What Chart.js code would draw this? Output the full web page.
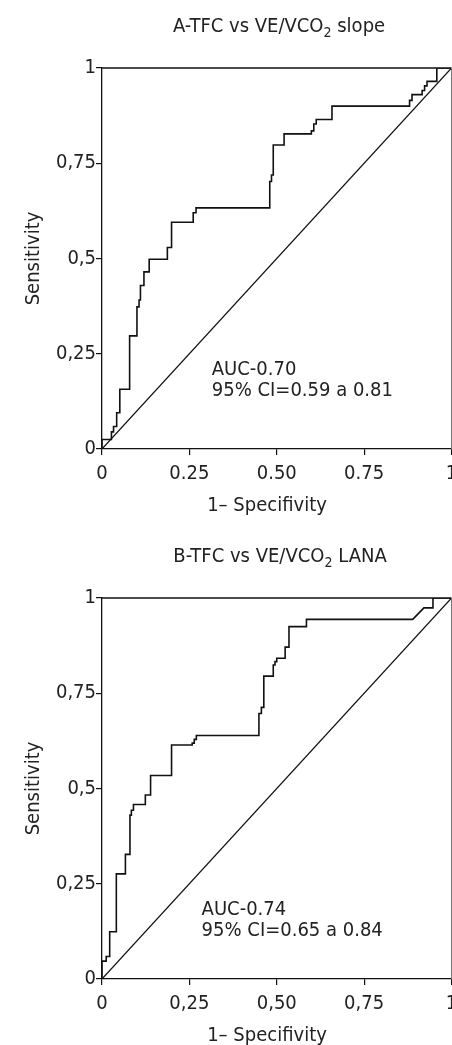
<!DOCTYPE html>
<html><head><meta charset="utf-8">
<script src="https://cdn.jsdelivr.net/npm/chart.js@4.4.1/dist/chart.umd.min.js"></script>
<style>
html,body{margin:0;padding:0;background:#fff;overflow:hidden;}
.box{position:relative;width:452px;}
#wa{height:530px;} #wb{height:515px;}
</style></head><body>
<div class="box" id="wa"><canvas id="ca"></canvas></div>
<div class="box" id="wb"><canvas id="cb"></canvas></div>
<script>
// ---- data ----
const titleA = ['A-TFC vs VE/VCO', '2', ' slope'];
const titleB = ['B-TFC vs VE/VCO', '2', ' LANA'];
const aucA = ['AUC-0.70', '95% CI=0.59 a 0.81'];
const aucB = ['AUC-0.74', '95% CI=0.65 a 0.84'];
const xTitle = '1\u2013 Specifivity';
const yTitle = 'Sensitivity';
const tickValues = [0, 0.25, 0.5, 0.75, 1];
const xTicksA = ['0', '0.25', '0.50', '0.75', '1'];
const xTicksB = ['0', '0,25', '0,50', '0,75', '1'];
const yTicks = ['0', '0,25', '0,5', '0,75', '1'];
const refX = [0, 1];
const refY = [0, 1];

const rocA_fpr = [0,0,0.027,0.027,0.033,0.033,0.042,0.042,0.051,0.051,0.079,0.079,0.1,0.1,0.106,0.106,0.11,0.11,0.12,0.12,0.135,0.135,0.187,0.187,0.199,0.199,0.261,0.261,0.269,0.269,0.48,0.48,0.485,0.485,0.49,0.49,0.521,0.521,0.599,0.599,0.606,0.606,0.613,0.613,0.658,0.658,0.88,0.88,0.887,0.887,0.916,0.916,0.923,0.923,0.93,0.93,0.958,0.958,1];
const rocA_tpr = [0,0.025,0.025,0.045,0.045,0.059,0.059,0.095,0.095,0.157,0.157,0.297,0.297,0.373,0.373,0.391,0.391,0.429,0.429,0.465,0.465,0.498,0.498,0.529,0.529,0.595,0.595,0.62,0.62,0.633,0.633,0.702,0.702,0.719,0.719,0.798,0.798,0.827,0.827,0.835,0.835,0.853,0.853,0.865,0.865,0.9,0.9,0.915,0.915,0.93,0.93,0.941,0.941,0.953,0.953,0.965,0.965,1,1];

const rocB_fpr = [0,0,0.012,0.012,0.022,0.022,0.041,0.041,0.067,0.067,0.08,0.08,0.084,0.084,0.09,0.09,0.124,0.124,0.139,0.139,0.199,0.199,0.258,0.258,0.264,0.264,0.27,0.27,0.449,0.449,0.456,0.456,0.463,0.463,0.49,0.49,0.495,0.495,0.5,0.5,0.524,0.524,0.535,0.535,0.585,0.585,0.889,0.921,0.947,0.947,1];
const rocB_tpr = [0,0.047,0.047,0.059,0.059,0.124,0.124,0.276,0.276,0.327,0.327,0.43,0.43,0.443,0.443,0.458,0.458,0.483,0.483,0.534,0.534,0.614,0.614,0.619,0.619,0.629,0.629,0.639,0.639,0.697,0.697,0.713,0.713,0.795,0.795,0.824,0.824,0.833,0.833,0.842,0.842,0.871,0.871,0.925,0.925,0.944,0.944,0.974,0.974,1,1];

// ---- styling ----
const FONT = '"Liberation Sans Narrow", "Arial Narrow", "DejaVu Sans Condensed", sans-serif';
const FS = 20;
const TEXT = '#222';
const LINE = '#111';

const pts = (xs, ys) => xs.map((v, i) => ({x: v, y: ys[i]}));

const rocText = {
  id: 'rocText',
  afterDraw(chart, args, o) {
    const {ctx, chartArea: a, scales: {x, y}} = chart;
    ctx.save();
    ctx.strokeStyle = LINE; ctx.lineWidth = 1.3;
    ctx.beginPath(); ctx.moveTo(a.left, a.top); ctx.lineTo(a.right, a.top); ctx.stroke();
    ctx.strokeStyle = '#777'; ctx.lineWidth = 1;
    ctx.beginPath(); ctx.moveTo(a.right, a.top); ctx.lineTo(a.right, a.bottom); ctx.stroke();

    ctx.fillStyle = TEXT;
    ctx.textBaseline = 'alphabetic';
    // title with subscript
    const big = FS + 'px ' + FONT, small = (FS * 0.7) + 'px ' + FONT;
    const parts = o.title;
    const fonts = [big, small, big];
    let w = 0; const ws = [];
    parts.forEach((p, i) => { ctx.font = fonts[i]; const m = ctx.measureText(p).width; ws.push(m); w += m; });
    let cx = o.titleCx - w / 2;
    const by = a.top - o.titleGap;
    parts.forEach((p, i) => { ctx.font = fonts[i]; ctx.textAlign = 'left'; ctx.fillText(p, cx, by + (i === 1 ? 5 : 0)); cx += ws[i]; });

    // AUC text
    ctx.font = big; ctx.textAlign = 'left';
    o.auc.forEach((t, i) => {
      ctx.fillText(t, x.getPixelForValue(o.aucPos[0]), y.getPixelForValue(o.aucPos[1]) + i * o.aucLine);
    });
    // x title
    ctx.textAlign = 'center';
    ctx.fillText(xTitle, o.xTitleCx, a.bottom + o.xTitleGap);
    ctx.restore();
  }
};

function makeChart(id, fpr, tpr, xLabels, opts) {
  const H = document.getElementById(id).parentNode.clientHeight;
  return new Chart(document.getElementById(id), {
    type: 'scatter',
    data: {
      datasets: [
        {data: pts(refX, refY), showLine: true, borderColor: LINE, borderWidth: 1.2, pointRadius: 0, tension: 0},
        {data: pts(fpr, tpr), showLine: true, borderColor: LINE, borderWidth: 1.6, pointRadius: 0, tension: 0}
      ]
    },
    options: {
      responsive: true, maintainAspectRatio: false, animation: false,
      devicePixelRatio: 1,
      layout: {padding: {top: 68, right: 0.5, left: 0, bottom: 0}},
      plugins: {legend: {display: false}, tooltip: {enabled: false}, rocText: opts},
      scales: {
        x: {
          type: 'linear', min: 0, max: 1,
          afterBuildTicks: s => { s.ticks = tickValues.map(v => ({value: v})); },
          afterFit: s => { s.height = H - 449; s.paddingLeft = 0; s.paddingRight = 0; },
          ticks: {callback: (v, i) => xLabels[i], font: {family: FONT, size: FS}, color: TEXT, padding: 7, maxRotation: 0, autoSkip: false},
          grid: {drawOnChartArea: false, drawTicks: true, tickLength: 6, color: LINE, lineWidth: 1.2},
          border: {display: true, color: LINE, width: 1.3}
        },
        y: {
          type: 'linear', min: 0, max: 1,
          afterBuildTicks: s => { s.ticks = tickValues.map(v => ({value: v})); },
          afterFit: s => { s.width = 102; s.paddingTop = 0; s.paddingBottom = 0; },
          ticks: {callback: (v, i) => yTicks[i], font: {family: FONT, size: FS}, color: TEXT, padding: 0, autoSkip: false},
          grid: {drawOnChartArea: false, drawTicks: true, tickLength: 6, color: LINE, lineWidth: 1.2},
          border: {display: true, color: LINE, width: 1.3},
          title: {display: true, text: yTitle, font: {family: FONT, size: FS}, color: TEXT, padding: {top: 22, bottom: 0}}
        }
      }
    },
    plugins: [rocText]
  });
}

makeChart('ca', rocA_fpr, rocA_tpr, xTicksA, {title: titleA, titleCx: 279, titleGap: 36, auc: aucA, aucPos: [0.314, 0.194], aucLine: 21, xTitleCx: 267, xTitleGap: 62});
makeChart('cb', rocB_fpr, rocB_tpr, xTicksB, {title: titleB, titleCx: 280, titleGap: 36, auc: aucB, aucPos: [0.285, 0.168], aucLine: 21.5, xTitleCx: 267, xTitleGap: 62});
</script>
</body></html>
